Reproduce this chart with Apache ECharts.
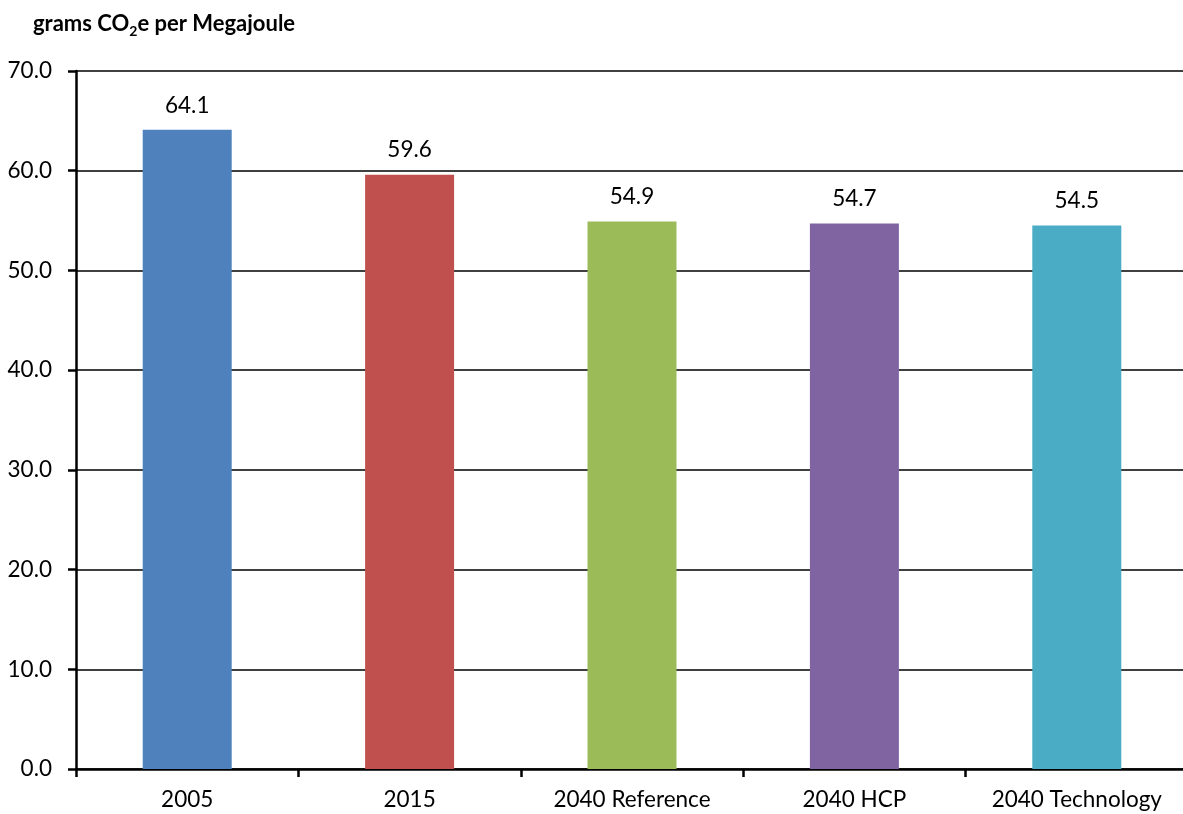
<!DOCTYPE html>
<html><head><meta charset="utf-8">
<script src="https://cdn.jsdelivr.net/npm/echarts@6/dist/echarts.min.js"></script>
<style>html,body{margin:0;padding:0;background:#fff;overflow:hidden;width:1183px;height:814px}#c{width:1200px;height:814px}</style>
</head><body><div id="c"></div>
<script>
const categories = ['2005', '2015', '2040 Reference', '2040 HCP', '2040 Technology'];
const values = [64.1, 59.6, 54.9, 54.7, 54.5];
const colors = ['#4F81BD', '#C0504D', '#9BBB59', '#8064A2', '#4BACC6'];
const yTicks = { min: 0, max: 70, interval: 10 };
const FONT = 'Lato, "Open Sans", sans-serif';

const chart = echarts.init(document.getElementById('c'));
chart.setOption({
  animation: false,
  title: {
    text: '{a|grams CO}{s|2}{a|e per Megajoule}',
    left: 28, top: 6,
    textStyle: {
      rich: {
        a: { fontFamily: FONT, fontWeight: 'bold', fontSize: 22, color: '#000', lineHeight: 26 },
        s: { fontFamily: FONT, fontWeight: 'bold', fontSize: 14, color: '#000', lineHeight: 26, padding: [14, 0, 0, 0] }
      }
    }
  },
  grid: { left: 76, width: 1112, top: 71, bottom: 45, containLabel: false },
  xAxis: {
    type: 'category', data: categories,
    axisLine: { lineStyle: { color: '#000', width: 2.5 } },
    axisTick: { show: true, length: 8, lineStyle: { color: '#000', width: 2.5 } },
    axisLabel: { color: '#000', fontSize: 22.5, fontFamily: FONT, margin: 19 }
  },
  yAxis: {
    type: 'value', min: yTicks.min, max: yTicks.max, interval: yTicks.interval,
    axisLine: { show: true, lineStyle: { color: '#000', width: 2.5 } },
    axisTick: { show: true, length: 8, lineStyle: { color: '#000', width: 2.5 } },
    splitLine: { lineStyle: { color: '#000', width: 1.5 } },
    axisLabel: { color: '#000', fontSize: 22.5, fontFamily: FONT, margin: 24, formatter: v => v.toFixed(1) }
  },
  series: [{
    type: 'bar', barWidth: 89,
    data: values.map((v, i) => ({ value: v, itemStyle: { color: colors[i] } })),
    label: { show: true, position: 'top', distance: 13, color: '#000', fontSize: 22.5, fontFamily: FONT, formatter: p => p.value.toFixed(1) }
  }]
});
</script></body></html>
